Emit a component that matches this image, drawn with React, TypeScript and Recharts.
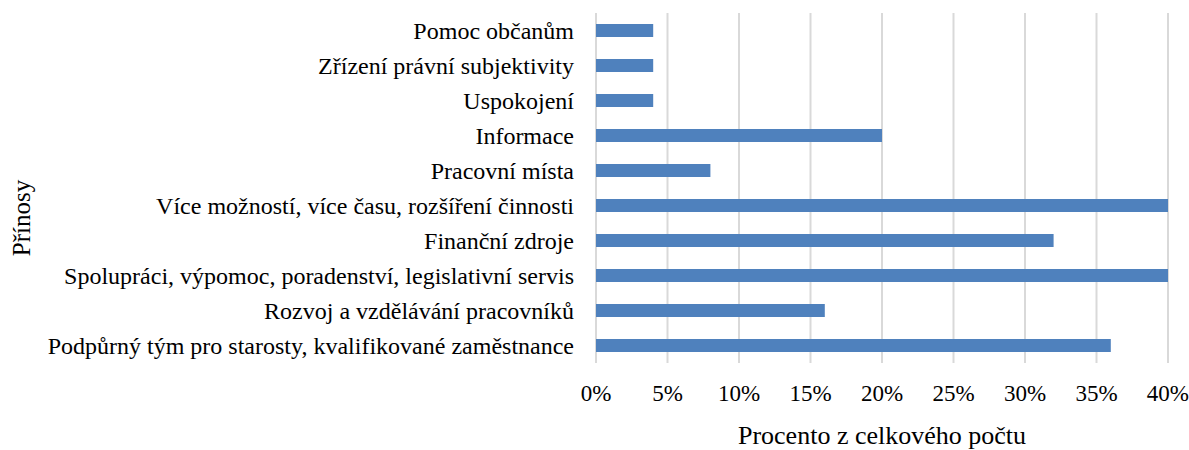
import { BarChart, Bar, XAxis, YAxis, CartesianGrid } from "recharts";

const CATEGORIES = [
  "Pomoc občanům",
  "Zřízení právní subjektivity",
  "Uspokojení",
  "Informace",
  "Pracovní místa",
  "Více možností, více času, rozšíření činnosti",
  "Finanční zdroje",
  "Spolupráci, výpomoc, poradenství, legislativní servis",
  "Rozvoj a vzdělávání pracovníků",
  "Podpůrný tým pro starosty, kvalifikované zaměstnance",
];
const VALUES = [4, 4, 4, 20, 8, 40, 32, 40, 16, 36];
const X_TICKS = [0, 5, 10, 15, 20, 25, 30, 35, 40];

const data = CATEGORIES.map((name, i) => ({ name, value: VALUES[i] }));

const FONT = "Liberation Serif";

export default function App() {
  return (
    <div style={{ position: "absolute", left: 0, top: 0 }}>
      <BarChart
        width={1189}
        height={450}
        data={data}
        layout="vertical"
        margin={{ top: 13, right: 21, bottom: 0, left: 0 }}
        barCategoryGap={0}
      >
        <CartesianGrid horizontal={false} stroke="#d9d9d9" strokeWidth={2} />
        <XAxis
          type="number"
          domain={[0, 40]}
          ticks={X_TICKS}
          tickFormatter={(v) => `${v}%`}
          axisLine={false}
          tickLine={false}
          tickSize={0}
          tickMargin={22}
          height={87}
          tick={{ fill: "#000", fontSize: 23, fontFamily: FONT }}
          label={{
            value: "Procento z celkového počtu",
            position: "insideBottom",
            offset: 6,
            fill: "#000",
            fontSize: 26,
            fontFamily: FONT,
          }}
        />
        <YAxis
          type="category"
          dataKey="name"
          width={596}
          axisLine={false}
          tickLine={false}
          tickSize={0}
          tickMargin={22}
          interval={0}
          tick={{ fill: "#000", fontSize: 24, fontFamily: FONT }}
          label={{
            content: () => (
              <text
                x={21}
                y={218}
                transform="rotate(-90 21 218)"
                textAnchor="middle"
                dominantBaseline="central"
                fill="#000"
                fontSize={25}
                fontFamily={FONT}
              >
                Přínosy
              </text>
            ),
          }}
        />
        <Bar dataKey="value" fill="#4f81bd" barSize={13} isAnimationActive={false} />
      </BarChart>
    </div>
  );
}
